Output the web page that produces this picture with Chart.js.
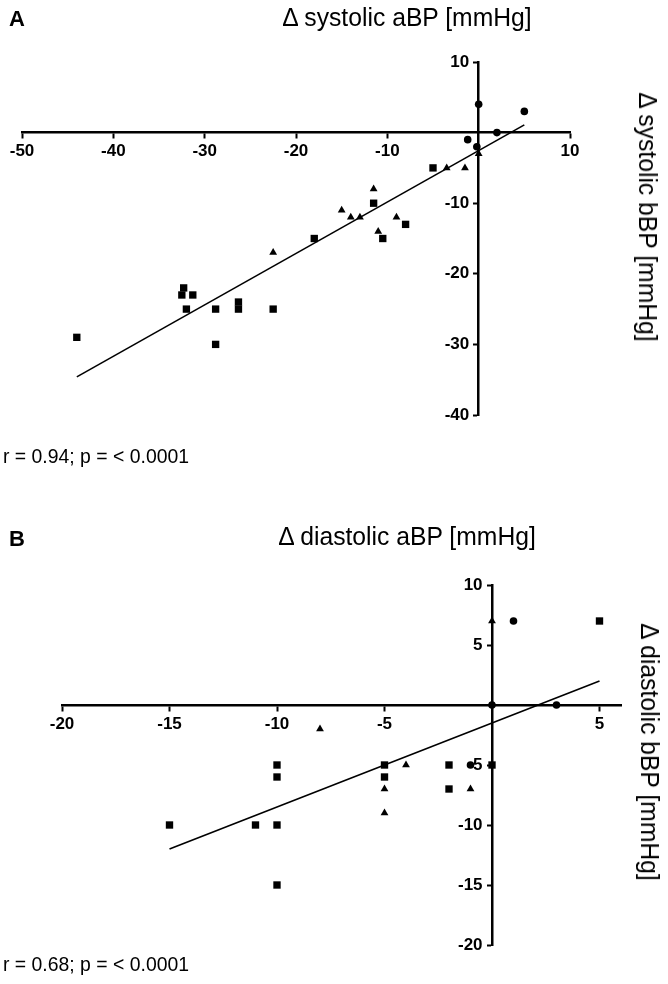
<!DOCTYPE html>
<html><head><meta charset="utf-8">
<script src="https://cdn.jsdelivr.net/npm/chart.js@4.4.1/dist/chart.umd.min.js"></script>
<style>
html,body{margin:0;padding:0;background:#fff;}
body{width:668px;height:984px;position:relative;overflow:hidden;font-family:"Liberation Sans",Arial,sans-serif;color:#000;}
canvas{position:absolute;left:0;}
.t{position:absolute;white-space:nowrap;line-height:1;}
.pl{position:absolute;white-space:nowrap;font-weight:bold;font-size:22px;line-height:1;transform:translateY(-50%);}
.ttl{font-size:26px;transform:translate(-50%,-50%) scaleX(0.95);}
.rot{transform:translate(-50%,-50%) rotate(90deg) scaleX(0.95);}
.rr{position:absolute;white-space:nowrap;font-size:20px;line-height:1;transform-origin:0 50%;transform:translateY(-50%) scaleX(0.97);}
</style></head><body>
<canvas id="cA" style="top:0" width="668" height="492"></canvas>
<canvas id="cB" style="top:492px" width="668" height="492"></canvas>

<div class="pl" style="left:9px;top:19px">A</div>
<div class="t ttl" style="left:407px;top:17px">Δ systolic aBP [mmHg]</div>
<div class="t ttl rot" style="left:648px;top:217px">Δ systolic bBP [mmHg]</div>
<div class="rr" style="left:3px;top:456px">r = 0.94; p = &lt; 0.0001</div>

<div class="pl" style="left:9px;top:539px">B</div>
<div class="t ttl" style="left:407px;top:536px">Δ diastolic aBP [mmHg]</div>
<div class="t ttl rot" style="left:650px;top:752px">Δ diastolic bBP [mmHg]</div>
<div class="rr" style="left:3px;top:964px">r = 0.68; p = &lt; 0.0001</div>

<script>
// ---- Panel A: Δ systolic aBP (x) vs Δ systolic bBP (y) ----
const sysCircleX = [0, 5, 2, -1.2, -0.2];
const sysCircleY = [4, 3, 0, -1, -2];
const sysTriX = [0, -1.5, -3.5, -11.5, -15, -14, -13, -9, -11, -22.5];
const sysTriY = [-3, -5, -5, -8, -11, -12, -12, -12, -14, -17];
const sysSqX = [-5, -11.5, -8, -10.5, -18, -32.3, -32.5, -31.3, -32, -28.8, -26.3, -26.3, -22.5, -28.8, -44];
const sysSqY = [-5, -10, -13, -15, -15, -22, -23, -23, -25, -25, -24, -25, -25, -30, -29];
const sysFitX = [-44, 5];
const sysFitY = [-34.6, 1.1];
const sysXTicks = [-50, -40, -30, -20, -10, 10];
const sysYTicks = [10, -10, -20, -30, -40];

// ---- Panel B: Δ diastolic aBP (x) vs Δ diastolic bBP (y) ----
const diaCircleX = [1, 0, 3, -1];
const diaCircleY = [7, 0, 0, -5];
const diaTriX = [0, -8, -4, -5, -5, -1];
const diaTriY = [7, -2, -5, -7, -9, -7];
const diaSqX = [5, 0, -2, -2, -5, -5, -10, -10, -10, -11, -15, -10];
const diaSqY = [7, -5, -5, -7, -5, -6, -5, -6, -10, -10, -10, -15];
const diaFitX = [-15, 5];
const diaFitY = [-12, 2];
const diaXTicks = [-20, -15, -10, -5, 5];
const diaYTicks = [10, 5, -5, -10, -15, -20];

const zip = (xs, ys) => xs.map((x, i) => ({x: x, y: ys[i]}));

function pts(xs, ys, style, r) {
  return {type: 'scatter', data: zip(xs, ys), pointStyle: style, pointRadius: r,
    pointHoverRadius: r, backgroundColor: '#000', borderColor: '#000', borderWidth: 0};
}

function tickFont() { return {family: 'Liberation Sans', weight: 'bold', size: 17}; }

function makeChart(id, sets, fit, xr, yr, xt, yt, pad) {
  const datasets = [
    {type: 'line', data: zip(fit[0], fit[1]), borderColor: '#000', borderWidth: 1.6,
      pointRadius: 0, fill: false, tension: 0},
    pts(sets[0][0], sets[0][1], 'circle', 3.8),
    pts(sets[1][0], sets[1][1], 'triangle', 4.5),
    pts(sets[2][0], sets[2][1], 'rect', 5.2)
  ];
  return new Chart(document.getElementById(id), {
    type: 'scatter',
    data: {datasets: datasets},
    options: {
      responsive: false, animation: false, devicePixelRatio: 1,
      layout: {padding: pad},
      plugins: {legend: {display: false}, tooltip: {enabled: false}, title: {display: false}},
      scales: {
        x: {type: 'linear', min: xr[0], max: xr[1], position: {y: 0},
          afterBuildTicks: s => { s.ticks = xt.map(v => ({value: v})); },
          grid: {display: true, drawOnChartArea: false, drawTicks: true, tickLength: 5, tickWidth: 2, tickColor: '#000'},
          border: {display: true, color: '#000', width: 2.5},
          ticks: {color: '#000', font: tickFont(), padding: 4, maxRotation: 0, autoSkip: false}
        },
        y: {type: 'linear', min: yr[0], max: yr[1], position: {x: 0},
          afterBuildTicks: s => { s.ticks = yt.map(v => ({value: v})); },
          grid: {display: true, drawOnChartArea: false, drawTicks: true, tickLength: 4, tickWidth: 2, tickColor: '#000'},
          border: {display: true, color: '#000', width: 2.5},
          ticks: {color: '#000', font: tickFont(), autoSkip: false,
            callback: v => v + '  '}
        }
      }
    }
  });
}

makeChart('cA',
  [[sysCircleX, sysCircleY], [sysTriX, sysTriY], [sysSqX, sysSqY]],
  [sysFitX, sysFitY], [-50, 10], [-40, 10], sysXTicks, sysYTicks,
  {left: 22, right: 98, top: 62, bottom: 77});

makeChart('cB',
  [[diaCircleX, diaCircleY], [diaTriX, diaTriY], [diaSqX, diaSqY]],
  [diaFitX, diaFitY], [-20, 6], [-20, 10], diaXTicks, diaYTicks,
  {left: 62, right: 47, top: 93, bottom: 39});
</script>
</body></html>
